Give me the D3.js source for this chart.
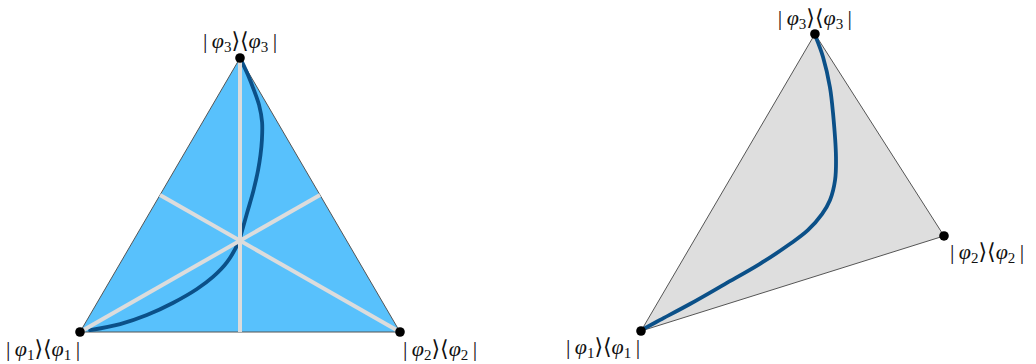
<!DOCTYPE html>
<html>
<head>
<meta charset="utf-8">
<script src="https://cdn.jsdelivr.net/npm/d3@7"></script>
<style>
  html, body { margin: 0; padding: 0; background: #fff; }
  svg { display: block; }
</style>
</head>
<body>
<script>
// barycentric (p1, p2, p3) points of the trajectory
const leftCurve = [
  [0.001, 0.014, 0.985], [0.006, 0.056, 0.938], [0.015, 0.102, 0.883],
  [0.026, 0.145, 0.829], [0.048, 0.186, 0.766], [0.081, 0.218, 0.701],
  [0.113, 0.241, 0.646], [0.148, 0.261, 0.591], [0.200, 0.284, 0.516],
  [0.261, 0.305, 0.434], [0.315, 0.324, 0.361], [0.337, 0.331, 0.332],
  [0.413, 0.332, 0.255], [0.484, 0.315, 0.201],
  [0.556, 0.287, 0.157], [0.657, 0.237, 0.106], [0.760, 0.178, 0.062],
  [0.860, 0.111, 0.029], [0.965, 0.028, 0.007]
]
const rightCurve = [
  [0.003, 0.011, 0.986], [0.018, 0.087, 0.895], [0.052, 0.186, 0.762],
  [0.089, 0.260, 0.651], [0.158, 0.376, 0.466], [0.201, 0.427, 0.372],
  [0.250, 0.454, 0.296], [0.297, 0.455, 0.248], [0.364, 0.436, 0.200],
  [0.438, 0.396, 0.166], [0.555, 0.322, 0.123], [0.687, 0.228, 0.085],
  [0.818, 0.134, 0.048], [0.928, 0.051, 0.021], [0.984, 0.009, 0.007]
]
const labels = ['1', '2', '3']

const W = 1036, H = 364
const svg = d3.select('body').append('svg')
  .attr('width', W)
  .attr('height', H)

// panel geometry: vertex positions in a unit frame + scales to pixels
const panels = [
  {
    vertices: [[0, 0], [1, 0], [0.5, 1]],
    x: d3.scaleLinear().domain([0, 1]).range([80, 400]),
    y: d3.scaleLinear().domain([0, 1]).range([332, 58]),
    fill: '#58c1fc',
    curve: leftCurve,
    medians: true,
    labelPos: [[-37, 24], [3, 24], [0, -10]],
    anchors: ['middle', 'start', 'middle']
  },
  {
    vertices: [[0, 0], [1, 0.32], [0.574, 1]],
    x: d3.scaleLinear().domain([0, 1]).range([641, 944]),
    y: d3.scaleLinear().domain([0, 1]).range([331, 34]),
    fill: '#dedede',
    curve: rightCurve,
    medians: false,
    labelPos: [[-38, 23], [6, 23], [0, -9]],
    anchors: ['middle', 'start', 'middle']
  }
]

function project(p, b) {
  let u = 0, v = 0
  for (let k = 0; k < 3; k++) {
    u += b[k] * p.vertices[k][0]
    v += b[k] * p.vertices[k][1]
  }
  return [p.x(u), p.y(v)]
}

const line = d3.line().curve(d3.curveCatmullRom)

panels.forEach(p => {
  const g = svg.append('g')
  const corners = [[1, 0, 0], [0, 1, 0], [0, 0, 1]].map(b => project(p, b))

  g.append('path')
    .attr('d', 'M' + corners.join('L') + 'Z')
    .attr('fill', p.fill)
    .attr('stroke', '#555')
    .attr('stroke-width', 1)

  g.append('path')
    .attr('d', line(p.curve.map(b => project(p, b))))
    .attr('fill', 'none')
    .attr('stroke', '#0b5088')
    .attr('stroke-width', 3.8)
    .attr('stroke-linecap', 'round')

  if (p.medians) {
    const mids = [[0, 0.5, 0.5], [0.5, 0, 0.5], [0.5, 0.5, 0]]
    mids.forEach((m, k) => {
      const a = corners[k], b = project(p, m)
      g.append('line')
        .attr('x1', a[0]).attr('y1', a[1])
        .attr('x2', b[0]).attr('y2', b[1])
        .attr('stroke', '#dcdcdc')
        .attr('stroke-width', 4)
    })
  }

  g.selectAll('circle.v').data(corners).enter().append('circle')
    .attr('cx', d => d[0])
    .attr('cy', d => d[1])
    .attr('r', 4.8)
    .attr('fill', '#000')

  corners.forEach((c, k) => {
    const t = g.append('text')
      .attr('x', c[0] + p.labelPos[k][0])
      .attr('y', c[1] + p.labelPos[k][1])
      .attr('text-anchor', p.anchors[k])
      .attr('font-family', '"Liberation Serif", "DejaVu Serif", serif')
      .attr('font-size', 22)
      .attr('fill', '#111')
    t.append('tspan').text('|\u2009')
    t.append('tspan').attr('font-style', 'italic').text('φ')
    t.append('tspan').attr('font-size', 15).attr('dy', 4).text(labels[k])
    t.append('tspan').attr('dy', -4).text('⟩⟨')
    t.append('tspan').attr('font-style', 'italic').text('φ')
    t.append('tspan').attr('font-size', 15).attr('dy', 4).text(labels[k])
    t.append('tspan').attr('dy', -4).text('\u2009|')
  })
})
</script>
</body>
</html>
